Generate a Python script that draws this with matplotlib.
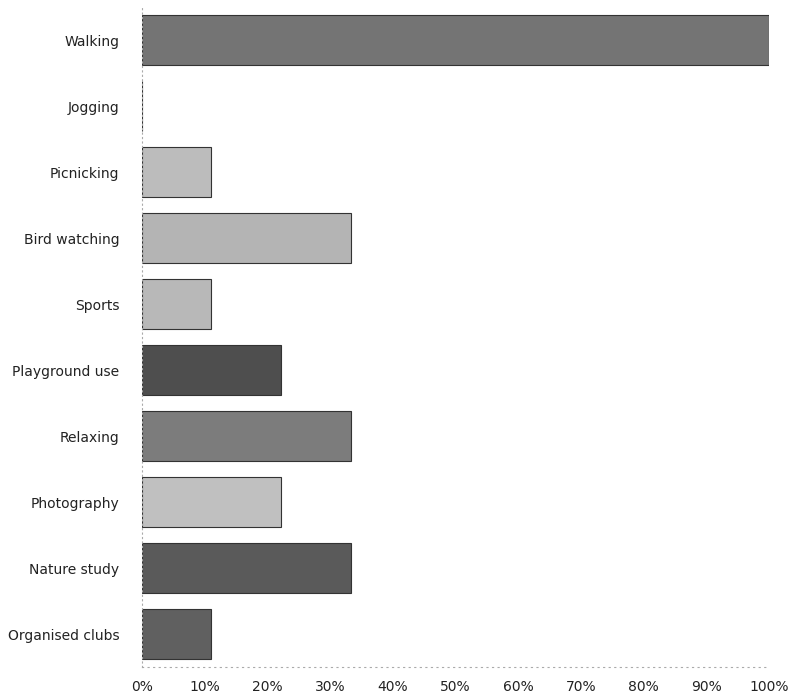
import matplotlib

matplotlib.use('Agg')
import matplotlib.pyplot as plt

activities = ['Walking', 'Jogging', 'Picnicking', 'Bird watching', 'Sports',
              'Playground use', 'Relaxing', 'Photography', 'Nature study',
              'Organised clubs']
share = [100.0, 0.0, 11.1, 33.3, 11.1, 22.2, 33.3, 22.2, 33.3, 11.1]
shades = ['#747474', '#9a9a9a', '#bcbcbc', '#b4b4b4', '#b8b8b8',
          '#4e4e4e', '#7c7c7c', '#c0c0c0', '#5a5a5a', '#606060']
x_ticks = [0, 10, 20, 30, 40, 50, 60, 70, 80, 90, 100]

fig = plt.figure(figsize=(7.88, 7.0), dpi=100)
ax = fig.add_axes([0.180, 0.047, 0.796, 0.943])

ax.barh(range(len(activities)), share, height=0.76, color=shades,
        edgecolor='#333333', linewidth=0.8)

ax.set_ylim(len(activities) - 0.5, -0.5)
ax.set_xlim(0, 100)
ax.set_yticks(range(len(activities)))
ax.set_yticklabels(activities, fontsize=10, color='#222222')
ax.set_xticks(x_ticks)
ax.set_xticklabels([f'{t}%' for t in x_ticks], fontsize=10, color='#222222')
ax.tick_params(axis='x', length=0, pad=9)
ax.tick_params(axis='y', length=0, pad=16)

for side in ['top', 'right']:
    ax.spines[side].set_visible(False)
ax.spines['left'].set_color('#aaaaaa')
ax.spines['left'].set_linestyle((0, (1, 3)))
ax.spines['bottom'].set_color('#aaaaaa')
ax.spines['bottom'].set_linestyle((0, (1, 4)))

fig.savefig('out.png', dpi=100)
